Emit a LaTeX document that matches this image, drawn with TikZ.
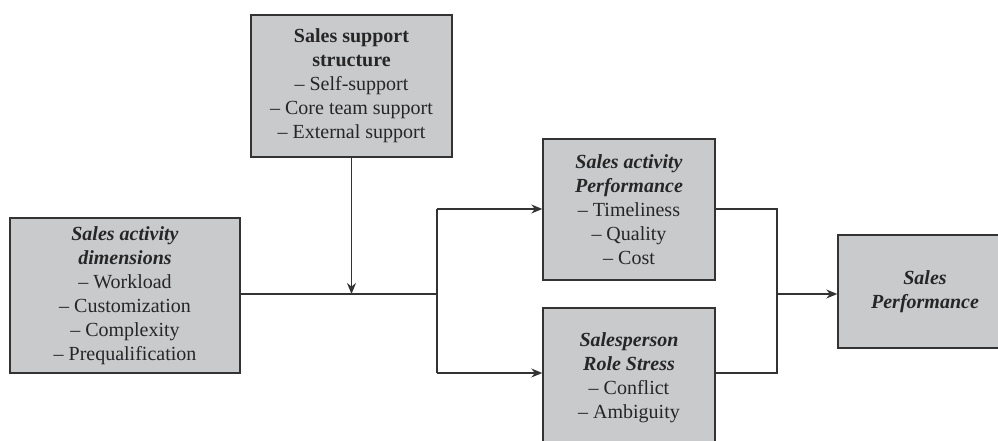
\documentclass[tikz,border=0pt]{standalone}
\usepackage{fontspec}
\setmainfont{Liberation Serif}
\usetikzlibrary{arrows.meta,shadows}
\definecolor{boxgray}{HTML}{C9CACC}
\definecolor{linegray}{HTML}{333333}
\begin{document}
\begin{tikzpicture}[x=1pt,y=-1pt,
  box/.style={draw=linegray, line width=1.4pt, fill=boxgray, align=center,
    font=\fontsize{20}{24}\selectfont, text=black!85, inner sep=0pt,
    drop shadow={shadow xshift=1.4pt, shadow yshift=-1.4pt, opacity=1, fill=black!70}},
  conn/.style={draw=linegray, line width=1.3pt},
  arr/.style={conn, -{Stealth[length=11pt,width=9pt]}}]
\useasboundingbox (0,0) rectangle (998,441);
\clip (0,0) rectangle (998,441);

\node[box, minimum width=230pt, minimum height=155pt] (dim) at (125,295.5)
  {\textbf{\textit{Sales activity}}\\\textbf{\textit{dimensions}}\\– Workload\\– Customization\\– Complexity\\– Prequalification};
\node[box, minimum width=201pt, minimum height=142pt] (sup) at (351.5,86)
  {\textbf{Sales support}\\\textbf{structure}\\– Self-support\\– Core team support\\– External support};
\node[box, minimum width=172pt, minimum height=141pt] (perf) at (629,209.5)
  {\textbf{\textit{Sales activity}}\\\textbf{\textit{Performance}}\\– Timeliness\\– Quality\\– Cost};
\node[box, minimum width=172pt, minimum height=139pt] (stress) at (629,377.5)
  {\textbf{\textit{Salesperson}}\\\textbf{\textit{Role Stress}}\\– Conflict\\– Ambiguity};
\node[box, minimum width=174pt, minimum height=113pt] (sp) at (925,291.5)
  {\textbf{\textit{Sales}}\\\textbf{\textit{Performance}}};

\coordinate (j1) at (437,294);
\coordinate (a1) at (437,209);
\coordinate (a2) at (437,373);
\coordinate (j2) at (777,294);

\draw[conn] (dim.east |- j1) -- (j1);
\draw[arr] (sup.south) -- (sup.south |- j1);
\draw[conn] (a1) -- (a2);
\draw[arr] (a1) -- (a1 -| perf.west);
\draw[arr] (a2) -- (a2 -| stress.west);
\draw[conn] (a1 -| perf.east) -| (j2 |- a2) -- (a2 -| stress.east);
\draw[arr] (j2) -- (j2 -| sp.west);
\end{tikzpicture}
\end{document}
